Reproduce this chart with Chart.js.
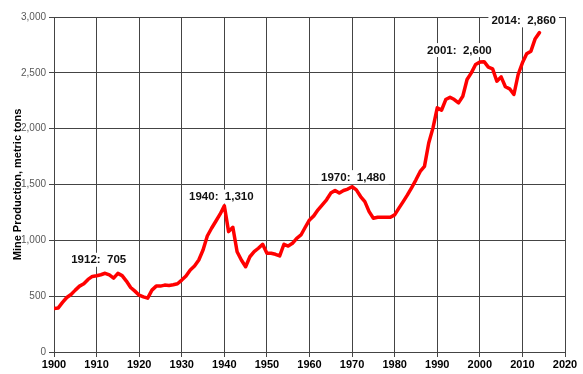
<!DOCTYPE html>
<html>
<head>
<meta charset="utf-8">
<script src="https://cdn.jsdelivr.net/npm/chart.js@4/dist/chart.umd.min.js"></script>
<style>
  html, body { margin: 0; padding: 0; background: #ffffff; }
  #wrap { width: 583px; height: 374px; }
</style>
</head>
<body>
<div id="wrap"><canvas id="c" width="583" height="374"></canvas></div>
<script>
const years = [
  1900,1901,1902,1903,1904,1905,1906,1907,1908,1909,
  1910,1911,1912,1913,1914,1915,1916,1917,1918,1919,
  1920,1921,1922,1923,1924,1925,1926,1927,1928,1929,
  1930,1931,1932,1933,1934,1935,1936,1937,1938,1939,
  1940,1941,1942,1943,1944,1945,1946,1947,1948,1949,
  1950,1951,1952,1953,1954,1955,1956,1957,1958,1959,
  1960,1961,1962,1963,1964,1965,1966,1967,1968,1969,
  1970,1971,1972,1973,1974,1975,1976,1977,1978,1979,
  1980,1981,1982,1983,1984,1985,1986,1987,1988,1989,
  1990,1991,1992,1993,1994,1995,1996,1997,1998,1999,
  2000,2001,2002,2003,2004,2005,2006,2007,2008,2009,
  2010,2011,2012,2013,2014
];
const production = [
  390,395,444,488,515,554,590,611,650,677,
  683,692,705,690,662,704,684,635,578,545,
  509,494,482,554,590,590,599,596,602,611,
  644,680,734,770,824,913,1039,1108,1171,1234,
  1310,1078,1117,898,824,764,853,898,929,965,
  884,884,875,860,965,949,973,1018,1048,1117,
  1183,1219,1273,1318,1363,1423,1446,1423,1446,1459,
  1480,1452,1392,1347,1257,1198,1207,1207,1207,1207,
  1228,1288,1347,1407,1473,1542,1617,1662,1872,2007,
  2186,2165,2261,2282,2261,2231,2290,2440,2500,2575,
  2596,2600,2551,2536,2425,2464,2375,2357,2306,2485,
  2590,2671,2694,2806,2860
];
const yTicks = [0, 500, 1000, 1500, 2000, 2500, 3000];
const xTicks = [1900, 1910, 1920, 1930, 1940, 1950, 1960, 1970, 1980, 1990, 2000, 2010, 2020];

// callout labels: text and the data-space point where each label is centred
const calloutText = ['1912:  705', '1940:  1,310', '1970:  1,480', '2001:  2,600', '2014:  2,860'];
const calloutYear = [1910.5, 1939.3, 1970.3, 1995.2, 2010.3];
const calloutValue = [826, 1392, 1566, 2704, 2970];

const points = years.map((y, i) => ({ x: y, y: production[i] }));

const calloutPlugin = {
  id: 'callouts',
  afterDatasetsDraw(chart) {
    const ctx = chart.ctx;
    const xs = chart.scales.x, ys = chart.scales.y;
    ctx.save();
    ctx.font = 'bold 11.5px "Liberation Sans", Arial, sans-serif';
    ctx.textAlign = 'center';
    ctx.textBaseline = 'middle';
    calloutText.forEach((t, i) => {
      const cx = xs.getPixelForValue(calloutYear[i]);
      const cy = ys.getPixelForValue(calloutValue[i]);
      const w = ctx.measureText(t).width + 6;
      const h = 14;
      ctx.fillStyle = '#ffffff';
      ctx.fillRect(cx - w / 2, cy - h / 2, w, h);
      ctx.fillStyle = '#111111';
      ctx.fillText(t, cx, cy + 0.5);
    });
    ctx.restore();
  }
};

new Chart(document.getElementById('c'), {
  type: 'line',
  data: {
    datasets: [{
      data: points,
      borderColor: '#ff0000',
      borderWidth: 3.5,
      pointRadius: 0,
      tension: 0,
      fill: false,
      borderJoinStyle: 'round',
      borderCapStyle: 'round'
    }]
  },
  options: {
    responsive: false,
    animation: false,
    devicePixelRatio: 1,
    layout: { padding: { left: 0, top: 17, right: 18, bottom: 0 } },
    plugins: { legend: { display: false }, tooltip: { enabled: false } },
    scales: {
      x: {
        type: 'linear',
        min: 1900, max: 2020,
        afterBuildTicks(s) { s.ticks = xTicks.map(v => ({ value: v })); },
        afterFit(s) { s.height = 22; },
        grid: { color: '#444444', lineWidth: 1, tickLength: 5, drawTicks: true },
        border: { color: '#444444', width: 1 },
        ticks: {
          color: '#000000',
          padding: 1,
          maxRotation: 0,
          autoSkip: false,
          font: { family: '"Liberation Sans", Arial, sans-serif', size: 11, weight: 'bold' },
          callback: v => String(v)
        }
      },
      y: {
        type: 'linear',
        min: 0, max: 3000,
        afterBuildTicks(s) { s.ticks = yTicks.map(v => ({ value: v })); },
        afterFit(s) { s.width = 54; },
        grid: { color: '#444444', lineWidth: 1, tickLength: 5, drawTicks: true },
        border: { color: '#444444', width: 1 },
        ticks: {
          color: '#595959',
          padding: 3,
          font: { family: '"Liberation Sans", Arial, sans-serif', size: 10 },
          callback: v => v.toLocaleString('en-US')
        },
        title: {
          display: true,
          text: 'Mine Production, metric tons',
          color: '#000000',
          padding: { top: 11.4, bottom: 0 },
          font: { family: '"Liberation Sans", Arial, sans-serif', size: 11, weight: 'bold' }
        }
      }
    }
  },
  plugins: [calloutPlugin]
});
</script>
</body>
</html>
